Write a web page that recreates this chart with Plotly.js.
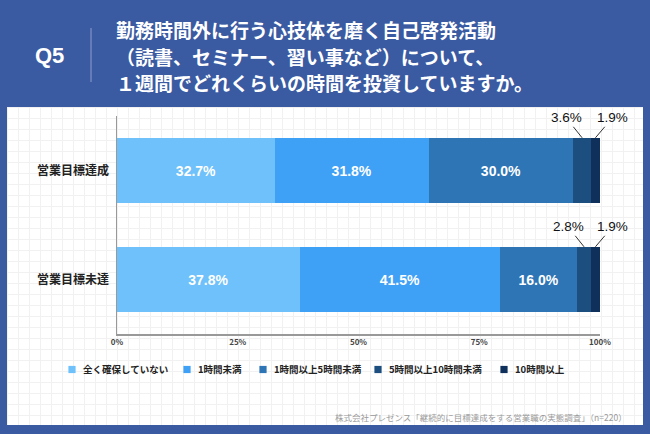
<!DOCTYPE html>
<html><head><meta charset="utf-8">
<script src="https://cdn.plot.ly/plotly-3.0.1.min.js"></script>
<style>
html,body{margin:0;padding:0;}
body{width:650px;height:434px;background:#3A5AA2;position:relative;overflow:hidden;}
#panel{position:absolute;left:7px;top:107px;width:636px;height:318px;background-color:#fff;
background-image:linear-gradient(#f1f1f1 1px,transparent 1px),linear-gradient(90deg,#f1f1f1 1px,transparent 1px);
background-size:11px 11px;}
#chart{position:absolute;left:0;top:0;width:650px;height:434px;}
</style></head>
<body>
<div id="panel"></div>
<div id="chart"></div>
<script>
const categories = ['営業目標達成', '営業目標未達'];
const seriesNames = ['全く確保していない', '1時間未満', '1時間以上5時間未満', '5時間以上10時間未満', '10時間以上'];
const achieved = [32.7, 31.8, 30.0, 3.6, 1.9];
const notAchieved = [37.8, 41.5, 16.0, 2.8, 1.9];
const colors = ['#6EC1FA', '#3FA1F6', '#2E75B6', '#1D4E80', '#10305C'];
const xTickVals = [0, 25, 50, 75, 100];
const xTickText = ['0%', '25%', '50%', '75%', '100%'];
const titleLines = ['勤務時間外に行う心技体を磨く自己啓発活動', '（読書、セミナー、習い事など）について、', '１週間でどれくらいの時間を投資していますか。'];
const qLabel = 'Q5';
const sourceText = '株式会社プレゼンス「継続的に目標達成をする営業職の実態調査」（n=220）';

const FONT = '"Noto Sans CJK JP", "Noto Sans", sans-serif';
const NUMFONT = '"Liberation Sans", Arial, sans-serif';
const rows = [achieved, notAchieved];
const legendWidths = [70, 31, 70, 81, 50];

const traces = seriesNames.map((name, s) => ({
  type: 'bar', orientation: 'h', name: name,
  y: categories, x: rows.map(r => r[s]),
  width: 0.6,
  legendwidth: legendWidths[s],
  marker: {color: colors[s], line: {width: 0}},
  texttemplate: s < 3 ? '%{x:.1f}%' : '',
  textposition: s < 3 ? 'inside' : 'none',
  insidetextanchor: 'middle',
  textfont: {family: NUMFONT, size: 14, color: '#ffffff', weight: 'bold'},
  hoverinfo: 'skip'
}));

const PY = py => (334 - py) / 218;
const PX = px => (px - 117) / 483;

const annotations = [];
rows.forEach((r, i) => {
  [3, 4].forEach(s => {
    let start = 0;
    for (let k = 0; k < s; k++) start += r[k];
    annotations.push({
      x: start + r[s] / 2, y: i - 0.3, xref: 'x', yref: 'y',
      text: r[s].toFixed(1) + '%', showarrow: true, arrowhead: 0, arrowwidth: 1,
      arrowcolor: '#333', standoff: 0, ax: s === 3 ? -16 : 17, ay: -20,
      font: {family: NUMFONT, size: 13.5, color: '#111'}
    });
  });
});
titleLines.forEach((t, k) => {
  annotations.push({
    xref: 'paper', yref: 'paper', x: PX(114), y: PY(30 + k * 26),
    xanchor: 'left', yanchor: 'middle', showarrow: false, text: t,
    font: {family: FONT, size: 19, color: '#fff', weight: 'bold'}
  });
});
annotations.push({
  xref: 'paper', yref: 'paper', x: PX(49), y: PY(55),
  xanchor: 'center', yanchor: 'middle',
  text: qLabel, showarrow: false, font: {family: NUMFONT, size: 22, color: '#fff', weight: 'bold'}
});
annotations.push({
  xref: 'paper', yref: 'paper', x: PX(629), y: PY(417),
  xanchor: 'right', yanchor: 'middle',
  text: sourceText, showarrow: false, font: {family: FONT, size: 8.5, color: '#9a9a9a'}
});

const layout = {
  width: 650, height: 434,
  margin: {l: 117, r: 50, t: 116, b: 100},
  paper_bgcolor: 'rgba(0,0,0,0)', plot_bgcolor: 'rgba(0,0,0,0)',
  barmode: 'stack',
  showlegend: true,
  xaxis: {
    range: [0, 100], tickvals: xTickVals, ticktext: xTickText,
    showgrid: false, zeroline: false, showline: true, linecolor: '#999', linewidth: 1.5,
    ticks: '', tickfont: {family: FONT, size: 8, color: '#444', weight: 'bold'}, fixedrange: true
  },
  yaxis: {
    categoryorder: 'array', categoryarray: categories, autorange: 'reversed',
    showgrid: false, zeroline: false, showline: true, linecolor: '#999', linewidth: 1.5,
    ticks: '', ticklabelstandoff: 4,
    tickfont: {family: FONT, size: 12, color: '#222', weight: 'bold'}, fixedrange: true
  },
  legend: {
    orientation: 'h', x: PX(43), xanchor: 'left', y: PY(355), yanchor: 'top',
    font: {family: FONT, size: 9.5, color: '#222', weight: 'bold'},
    itemwidth: 30, traceorder: 'normal', bgcolor: 'rgba(0,0,0,0)'
  },
  shapes: [{
    type: 'line', xref: 'paper', yref: 'paper',
    x0: PX(91), x1: PX(91), y0: PY(28), y1: PY(82),
    line: {color: '#8d9fcc', width: 1}
  }],
  annotations: annotations
};

function shrinkLegendSymbols() {
  document.querySelectorAll('#chart .legendpoints path').forEach(p => {
    const base = p.getAttribute('transform') || '';
    p.setAttribute('transform', base + ' translate(9,0) scale(0.6)');
  });
}

Plotly.newPlot('chart', traces, layout, {displayModeBar: false, staticPlot: true}).then(shrinkLegendSymbols);
</script>
</body></html>
